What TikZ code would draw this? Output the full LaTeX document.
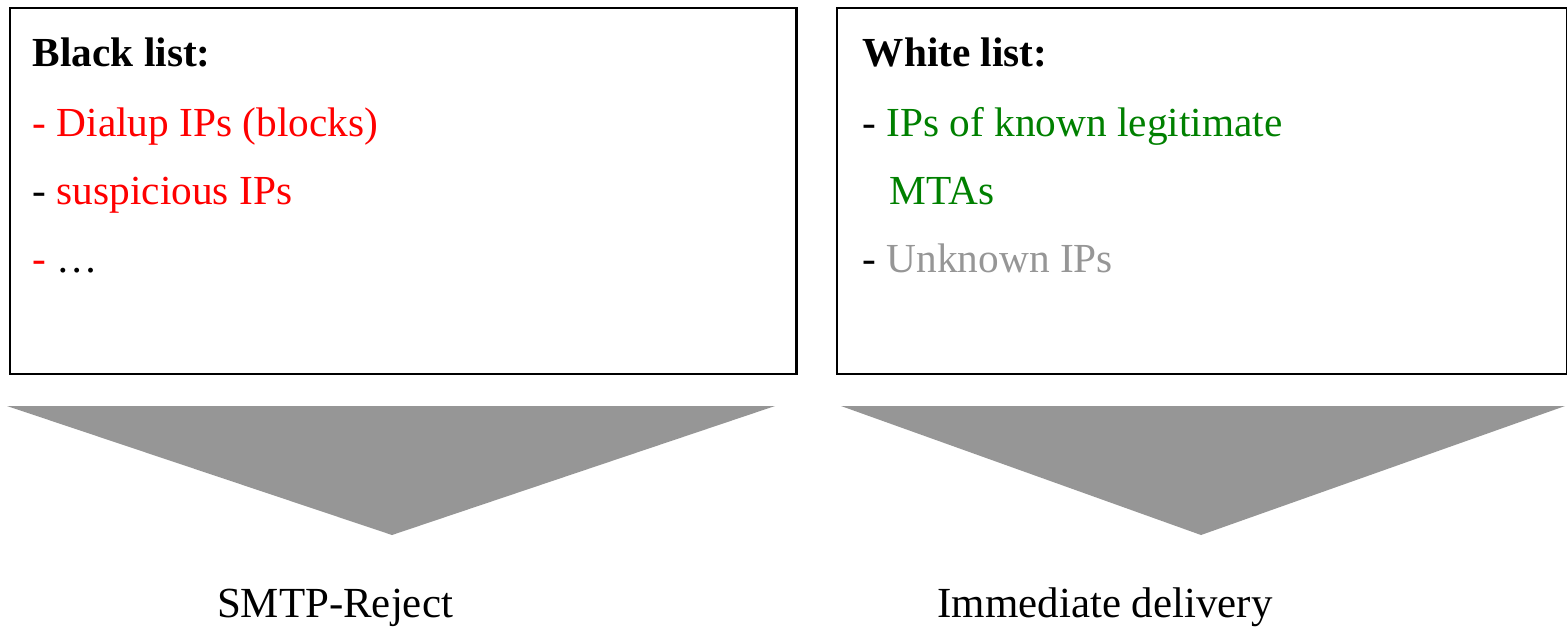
\documentclass[tikz,border=0pt]{standalone}
\usepackage{fontspec}
\setmainfont{Liberation Serif}
\usetikzlibrary{positioning}
\definecolor{listred}{RGB}{255,0,0}
\definecolor{listgreen}{RGB}{0,128,0}
\definecolor{listgray}{RGB}{150,150,150}
\tikzset{
  listbox/.style={draw=black, line width=0.6pt, anchor=north west, inner sep=0pt, minimum height=3.66cm},
  entry/.style={anchor=base west, inner sep=0pt, font=\fontsize{11.75}{14}\selectfont},
  head/.style={entry, font=\fontsize{11.75}{14}\selectfont\bfseries},
  funnel/.style={fill=listgray, draw=none},
  result/.style={anchor=base, inner sep=0pt, font=\fontsize{12.2}{15}\selectfont},
}

\begin{document}
\begin{tikzpicture}[x=0.01cm, y=-0.01cm]
  \useasboundingbox (0,0) rectangle (1567,630);
  % the two lists
  \node[listbox, minimum width=7.86cm] (black) at (9,7) {};
  \node[listbox, minimum width=7.30cm] (white) at (836,7) {};

  \node[head] (bhead) at (32,66) {Black list:};
  \node[entry, text=listred] (bdial) at (32,136) {- Dialup IPs (blocks)};
  \node[entry] (bsusp) at (32,204) {- \textcolor{listred}{suspicious IPs}};
  \node[entry] (bmore) at (32,272) {\textcolor{listred}{-} \dots};

  \node[head] (whead) at (862,66) {White list:};
  \node[entry] (wknown) at (862,136) {- \textcolor{listgreen}{IPs of known legitimate}};
  \node[entry, text=listgreen] (wmta) at (889,204) {MTAs};
  \node[entry] (wunk) at (862,272) {- \textcolor{listgray}{Unknown IPs}};

  % funnels and outcomes
  \fill[funnel] (7,406) -- (775,406) -- (392,535) -- cycle;
  \fill[funnel] (841,406) -- (1565,406) -- (1201,535) -- cycle;

  \node[result] (reject) at (335,617) {SMTP-Reject};
  \node[result] (deliver) at (1105,617) {Immediate delivery};
\end{tikzpicture}
\end{document}
